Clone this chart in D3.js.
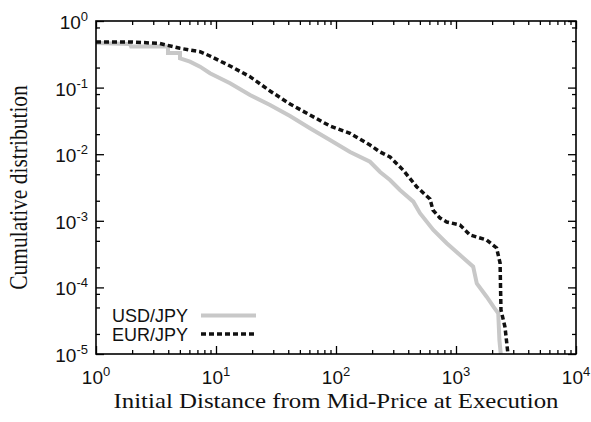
<!DOCTYPE html>
<html><head><meta charset="utf-8">
<script src="https://cdn.jsdelivr.net/npm/d3@7"></script>
<style>body{margin:0;background:#fff}svg{display:block}</style>
</head><body>
<svg id="c" width="591" height="422"></svg>
<script>
// ---- data ----
const seriesNames = ["USD/JPY", "EUR/JPY"];
const usdX = [1, 1.92, 1.96, 3.98, 3.98, 5.01, 5.01, 6.07, 7.36, 8.91, 13.1, 19.2, 28.2, 41.4, 60.7, 89.1, 131, 192, 233, 282, 341, 441, 501, 647, 837, 1080, 1390, 1490, 1800, 2050, 2250, 2300, 2360];
const usdY = [0.467, 0.451, 0.414, 0.414, 0.331, 0.331, 0.275, 0.245, 0.206, 0.164, 0.116, 0.0774, 0.0548, 0.0375, 0.0245, 0.0163, 0.0108, 0.0077, 0.0054, 0.0041, 0.0029, 0.00194, 0.0013, 0.00073, 0.00046, 0.000306, 0.000205, 0.000115, 0.0000725, 0.0000513, 0.0000408, 0.0000162, 0.00001];
const eurX = [1, 2.03, 3.41, 5.01, 7.36, 8.91, 13.1, 19.2, 28.2, 41.4, 60.7, 89.1, 131, 192, 233, 282, 362, 470, 607, 643, 736, 837, 1080, 1310, 1800, 2180, 2330, 2370, 2560, 2710];
const eurY = [0.484, 0.484, 0.459, 0.389, 0.346, 0.298, 0.211, 0.146, 0.0889, 0.0567, 0.0388, 0.0265, 0.0206, 0.0137, 0.0108, 0.00908, 0.00579, 0.00325, 0.00212, 0.00145, 0.0011, 0.00096, 0.000865, 0.000612, 0.000515, 0.000391, 0.000232, 0.0000458, 0.0000254, 0.00001];
const xMajor = [1, 10, 100, 1000, 10000];
const xExp = ["0", "1", "2", "3", "4"];
const yMajor = [1, 0.1, 0.01, 0.001, 0.0001, 0.00001];
const yExp = ["0", "-1", "-2", "-3", "-4", "-5"];
const xMinorMant = [2, 3, 4, 5, 6, 7, 8, 9];
const yMinorMant = [2, 5, 8];
const xTitle = "Initial Distance from Mid-Price at Execution";
const yTitle = "Cumulative distribution";

// ---- layout ----
const L = 96, R = 576, T = 21, B = 354;
const svg = d3.select("#c");
const x = d3.scaleLog().domain([1, 10000]).range([L, R]);
const y = d3.scaleLog().domain([0.00001, 1]).range([B, T]);

const xMinor = [];
[1, 10, 100, 1000].forEach(d => xMinorMant.forEach(m => xMinor.push(d * m)));
const yMinor = [];
[0.00001, 0.0001, 0.001, 0.01, 0.1].forEach(d => yMinorMant.forEach(m => yMinor.push(d * m)));

function ax(gen, tx, ty, vals, size) {
  const g = svg.append("g").attr("transform", `translate(${tx},${ty})`)
    .call(gen.tickValues(vals).tickSize(size).tickFormat(""));
  g.select(".domain").remove();
  g.selectAll(".tick line").attr("stroke", "#000").attr("stroke-width", 1.3);
  return g;
}
ax(d3.axisBottom(x), 0, B, xMajor, -8);
ax(d3.axisBottom(x), 0, B, xMinor, -4);
ax(d3.axisTop(x), 0, T, xMajor, -8);
ax(d3.axisTop(x), 0, T, xMinor, -4);
ax(d3.axisLeft(y), L, 0, yMajor, -8);
ax(d3.axisLeft(y), L, 0, yMinor, -4);
ax(d3.axisRight(y), R, 0, yMajor, -8);
ax(d3.axisRight(y), R, 0, yMinor, -4);

// clip
svg.append("clipPath").attr("id", "clip").append("rect")
  .attr("x", L).attr("y", T).attr("width", R - L).attr("height", B - T);

const line = d3.line().x(d => x(d[0])).y(d => y(d[1]));
const usd = usdX.map((v, i) => [v, usdY[i]]);
const eur = eurX.map((v, i) => [v, eurY[i]]);

svg.append("path").attr("d", line(usd)).attr("clip-path", "url(#clip)")
  .attr("fill", "none").attr("stroke", "#c8c8c8").attr("stroke-width", 4)
  .attr("stroke-linejoin", "miter");
svg.append("path").attr("d", line(eur)).attr("clip-path", "url(#clip)")
  .attr("fill", "none").attr("stroke", "#111").attr("stroke-width", 3.5)
  .attr("stroke-dasharray", "5,3");

// frame
svg.append("rect").attr("x", L).attr("y", T).attr("width", R - L).attr("height", B - T)
  .attr("fill", "none").attr("stroke", "#000").attr("stroke-width", 1.6);

// tick labels
const sans = "'Liberation Sans', Arial, sans-serif";
xMajor.forEach((v, i) => {
  const t = svg.append("text").attr("x", x(v)).attr("y", 384)
    .attr("text-anchor", "middle").attr("font-family", sans).attr("font-size", 19).attr("fill", "#111");
  t.append("tspan").text("10");
  t.append("tspan").attr("dy", -8).attr("font-size", 13).text(xExp[i]);
});
yMajor.forEach((v, i) => {
  const t = svg.append("text").attr("x", 88).attr("y", y(v) + 8)
    .attr("text-anchor", "end").attr("font-family", sans).attr("font-size", 19).attr("fill", "#111");
  t.append("tspan").text("10");
  t.append("tspan").attr("dy", -8).attr("font-size", 13).text(yExp[i]);
});

// titles
const serif = "'Liberation Serif', 'Times New Roman', serif";
svg.append("text").attr("x", (L + R) / 2).attr("y", 408).attr("text-anchor", "middle")
  .attr("font-family", serif).attr("font-size", 21.5).attr("fill", "#111")
  .attr("textLength", 445).attr("lengthAdjust", "spacingAndGlyphs").text(xTitle);
svg.append("text").attr("transform", `translate(27,${(T + B) / 2}) scale(1.18,1) rotate(-90)`)
  .attr("text-anchor", "middle").attr("font-family", serif).attr("font-size", 21.5).attr("fill", "#111")
  .text(yTitle);

// legend
const legY = [315.5, 334];
const legStyle = [{c: "#c8c8c8", w: 4, d: null}, {c: "#111", w: 3.5, d: "5,3"}];
seriesNames.forEach((n, i) => {
  svg.append("text").attr("x", 188).attr("y", legY[i] + 6.7).attr("text-anchor", "end")
    .attr("font-family", sans).attr("font-size", 18).attr("fill", "#111").text(n);
  const l = svg.append("line").attr("x1", 201).attr("x2", 256).attr("y1", legY[i]).attr("y2", legY[i])
    .attr("stroke", legStyle[i].c).attr("stroke-width", legStyle[i].w);
  if (legStyle[i].d) l.attr("stroke-dasharray", legStyle[i].d);
});
</script>
</body></html>
